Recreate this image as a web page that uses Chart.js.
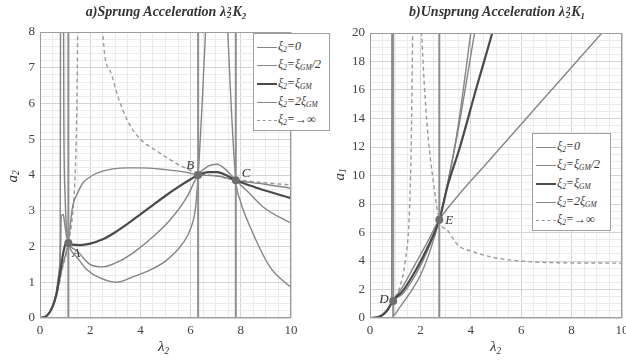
<!DOCTYPE html>
<html>
<head>
<meta charset="UTF-8">
<script src="https://cdn.jsdelivr.net/npm/chart.js"></script>
<style>
  body { margin: 0; background: #fff; }
  #wrap { position: relative; width: 626px; height: 361px; overflow: hidden; font-family: "Liberation Serif", serif; color: #333; }
  canvas { position: absolute; top: 0; }
  .title { position: absolute; top: 4px; font-size: 14px; font-weight: bold; font-style: italic; white-space: nowrap; transform: translateX(-50%); }
  .ax { position: absolute; font-size: 15px; font-style: italic; white-space: nowrap; }
  .ax sub, .title sub, .leg sub { font-size: 0.62em; vertical-align: -0.3em; line-height: 0; }
  .stk { display: inline-block; vertical-align: middle; line-height: 0.6; font-size: 0.62em; text-align: left; margin: 0 1px; }
  .leg { position: absolute; background: #fff; border: 1px solid #a0a0a0; font-size: 12px; font-style: italic; padding: 3px 2px 2px 3px; }
  .leg div { height: 18.3px; line-height: 18.3px; white-space: nowrap; }
  .leg span.ln { display: inline-block; width: 20px; vertical-align: middle; margin-right: 1px; border-top: 1.5px solid #858585; }
</style>
</head>
<body>
<div id="wrap">
  <canvas id="chartA" width="320" height="361" style="left:0"></canvas>
  <canvas id="chartB" width="306" height="361" style="left:320px"></canvas>

  <div class="title" style="left:166px">a)Sprung Acceleration &lambda;<span class="stk">2<br>2</span>K<sub>2</sub></div>
  <div class="title" style="left:497px">b)Unsprung Acceleration &lambda;<span class="stk">2<br>2</span>K<sub>1</sub></div>

  <div class="ax" style="left:6px; top:168px; transform: rotate(-90deg)">a<sub>2</sub></div>
  <div class="ax" style="left:333px; top:166px; transform: rotate(-90deg)">a<sub>1</sub></div>
  <div class="ax" style="left:158px; top:338px">&lambda;<sub>2</sub></div>
  <div class="ax" style="left:490px; top:338px">&lambda;<sub>2</sub></div>

  <div class="leg" style="left:253px; top:33px; width:70px">
    <div><span class="ln"></span>&xi;<sub>2</sub>=0</div>
    <div><span class="ln"></span>&xi;<sub>2</sub>=&xi;<sub>GM</sub>/2</div>
    <div><span class="ln" style="border-top:2.2px solid #4a4a4a"></span>&xi;<sub>2</sub>=&xi;<sub>GM</sub></div>
    <div><span class="ln"></span>&xi;<sub>2</sub>=2&xi;<sub>GM</sub></div>
    <div><span class="ln" style="border-top:1.5px dashed #9a9a9a"></span>&xi;<sub>2</sub>=&rarr;&infin;</div>
  </div>
  <div class="leg" style="left:532px; top:133px; width:72px">
    <div><span class="ln"></span>&xi;<sub>2</sub>=0</div>
    <div><span class="ln"></span>&xi;<sub>2</sub>=&xi;<sub>GM</sub>/2</div>
    <div><span class="ln" style="border-top:2.2px solid #4a4a4a"></span>&xi;<sub>2</sub>=&xi;<sub>GM</sub></div>
    <div><span class="ln"></span>&xi;<sub>2</sub>=2&xi;<sub>GM</sub></div>
    <div><span class="ln" style="border-top:1.5px dashed #9a9a9a"></span>&xi;<sub>2</sub>=&rarr;&infin;</div>
  </div>
</div>

<script>
// a) sprung acceleration (values above 8 run off the top)
const sprX0 = [0, 0.25, 0.5, 0.65, 0.75, 0.8, 0.83, 0.92, 0.95, 1.0, 1.06, 1.13, 1.25, 1.47, 1.87, 2.39, 3.06, 3.7, 4.38, 5.05, 5.7, 6.0, 6.2, 6.3, 7.05, 7.8, 7.97, 8.37, 9.16, 10];
const sprY0 = [0, 0.05, 0.33, 0.7, 1.2, 1.8, 12, 12, 5.5, 3.4, 2.5, 2.1, 1.88, 1.7, 1.35, 1.12, 1.0, 1.15, 1.34, 1.62, 2.1, 2.5, 3.1, 4.0, 12.5, 3.85, 3.3, 2.55, 1.43, 0.85];
const sprXh = [0, 0.25, 0.5, 0.65, 0.75, 0.82, 0.85, 0.93, 0.97, 1.02, 1.07, 1.13, 1.25, 1.47, 1.99, 2.5, 3.19, 3.86, 4.5, 5.18, 5.85, 6.3, 6.7, 7.05, 7.4, 7.8, 8.4, 8.9, 10];
const sprYh = [0, 0.05, 0.33, 0.68, 1.15, 2.0, 2.85, 2.9, 2.7, 2.45, 2.25, 2.1, 1.98, 1.88, 1.5, 1.43, 1.6, 1.9, 2.27, 2.74, 3.38, 4.0, 4.25, 4.3, 4.15, 3.85, 3.45, 3.1, 2.65];
const sprX1 = [0, 0.25, 0.5, 0.65, 0.75, 0.85, 0.95, 1.05, 1.13, 1.3, 1.6, 2.0, 2.5, 3.0, 3.5, 4.0, 4.5, 5.0, 5.5, 6.0, 6.3, 6.7, 7.05, 7.4, 7.8, 8.4, 8.9, 10];
const sprY1 = [0, 0.05, 0.32, 0.66, 1.05, 1.5, 1.9, 2.12, 2.1, 2.05, 2.04, 2.08, 2.2, 2.4, 2.64, 2.9, 3.16, 3.42, 3.66, 3.88, 4.0, 4.08, 4.08, 4.0, 3.85, 3.7, 3.58, 3.35];
const sprX2 = [0, 0.25, 0.5, 0.65, 0.75, 0.85, 0.95, 1.05, 1.13, 1.22, 1.31, 1.5, 1.7, 2.0, 2.27, 2.9, 3.5, 4.0, 5.0, 5.8, 6.3, 7.0, 7.8, 8.9, 10];
const sprY2 = [0, 0.05, 0.3, 0.62, 0.95, 1.3, 1.6, 1.85, 2.1, 2.7, 3.15, 3.5, 3.77, 3.95, 4.05, 4.17, 4.2, 4.2, 4.15, 4.08, 4.0, 3.98, 3.85, 3.75, 3.63];
const sprXi = [0, 0.25, 0.5, 0.65, 0.75, 0.85, 0.95, 1.05, 1.13, 1.25, 1.35, 1.42, 1.47, 1.5, 1.55, 2.0, 2.4, 2.5, 2.8, 3.1, 3.5, 4.0, 4.7, 5.5, 6.3, 7.0, 7.8, 9.0, 10];
const sprYi = [0, 0.05, 0.3, 0.6, 0.9, 1.25, 1.55, 1.8, 2.1, 2.6, 3.3, 4.4, 6, 8, 12, null, 12, 8, 6.9, 6.2, 5.5, 5.0, 4.65, 4.3, 4.05, 3.97, 3.87, 3.78, 3.72];
const sprMarkX = [1.13, 6.3, 7.8];
const sprMarkY = [2.1, 4.0, 3.85];
const sprMarkName = ['A', 'B', 'C'];

// b) unsprung acceleration (values above 20 run off the top)
const unsX0 = [0, 0.3, 0.5, 0.7, 0.8, 0.86, 0.875, 0.9, 0.93, 1.2, 1.6, 2.0, 2.4, 2.75, 3.1, 3.5, 4.0, 4.2];
const unsY0 = [0, 0.05, 0.2, 0.55, 0.85, 1.15, 40, 40, 0.2, 0.8, 1.8, 3.0, 4.8, 6.9, 9.6, 13.5, 20, 22.5];
const unsXh = [0, 0.3, 0.5, 0.7, 0.8, 0.9, 1.3, 1.8, 2.3, 2.75, 3.1, 3.5, 4.15, 4.3];
const unsYh = [0, 0.05, 0.2, 0.55, 0.85, 1.2, 1.7, 3.0, 4.8, 6.9, 9.6, 13.2, 20, 21.5];
const unsX1 = [0, 0.3, 0.5, 0.7, 0.8, 0.9, 1.3, 1.8, 2.3, 2.75, 3.1, 3.57, 4.2, 4.85, 5.0];
const unsY1 = [0, 0.05, 0.22, 0.58, 0.88, 1.2, 1.9, 3.3, 5.0, 6.9, 9.4, 12.0, 16, 20, 21];
const unsX2 = [0, 0.3, 0.5, 0.7, 0.8, 0.9, 1.3, 1.8, 2.3, 2.75, 3.5, 4.5, 6.0, 7.5, 9.2, 10];
const unsY2 = [0, 0.05, 0.25, 0.62, 0.9, 1.2, 2.2, 3.8, 5.4, 6.9, 8.6, 10.6, 13.6, 16.6, 20, 21.6];
const unsXi = [0, 0.3, 0.5, 0.7, 0.8, 0.9, 1.19, 1.4, 1.55, 1.63, 1.69, 1.72, 1.8, 1.95, 2.05, 2.25, 2.54, 2.75, 3.1, 3.5, 4.0, 4.9, 6.2, 7.5, 10];
const unsYi = [0, 0.05, 0.2, 0.55, 0.85, 1.2, 2.2, 4.0, 6.9, 11.6, 19.7, 25, null, 25, 20, 13.9, 9.2, 6.9, 6.1, 5.1, 4.7, 4.25, 3.97, 3.88, 3.85];
const unsMarkX = [0.92, 2.75];
const unsMarkY = [1.2, 6.9];
const unsMarkName = ['D', 'E'];

const serif = 'Liberation Serif';
const thin = '#858585', thick = '#4a4a4a', dash = '#9a9a9a';

function pts(xs, ys) { return xs.map((x, i) => ({ x: x, y: ys[i] })); }

function curve(xs, ys, color, width, dashed) {
    return { data: pts(xs, ys), borderColor: color, borderWidth: width, borderDash: dashed ? [4, 3] : [],
             pointRadius: 0, cubicInterpolationMode: 'monotone', spanGaps: false };
}

function buildSets(c0, ch, c1, c2, ci, mx, my, yMax) {
    const sets = [];
    sets.push({ data: pts(mx, my), showLine: false, pointRadius: 4, pointBackgroundColor: '#6e6e6e',
                pointBorderColor: '#6e6e6e', borderWidth: 0 });
    mx.forEach(x => sets.push({ data: [{ x: x, y: 0 }, { x: x, y: yMax }], borderColor: '#8e8e8e',
                borderWidth: 2, pointRadius: 0 }));
    sets.push(curve(c1[0], c1[1], thick, 2.2, false));
    sets.push(curve(c0[0], c0[1], thin, 1.4, false));
    sets.push(curve(ch[0], ch[1], thin, 1.4, false));
    sets.push(curve(c2[0], c2[1], thin, 1.4, false));
    sets.push(curve(ci[0], ci[1], dash, 1.4, true));
    return sets;
}

const framePlugin = {
    id: 'frame',
    afterDraw(chart, args, opts) {
        const a = chart.chartArea, ctx = chart.ctx;
        ctx.save();
        ctx.strokeStyle = '#9c9c9c';
        ctx.lineWidth = 1;
        ctx.strokeRect(a.left + 0.5, a.top + 0.5, a.right - a.left - 1, a.bottom - a.top - 1);
        // point labels
        ctx.fillStyle = '#333';
        ctx.font = 'italic 13px ' + serif;
        const xs = chart.scales.x, ys = chart.scales.y;
        opts.names.forEach((n, i) => {
            ctx.fillText(n, xs.getPixelForValue(opts.xs[i]) + opts.dx[i], ys.getPixelForValue(opts.ys[i]) + opts.dy[i]);
        });
        ctx.restore();
    }
};

function makeChart(id, sets, yMax, yStep, yMajor, pad, yWidth, marks) {
    const isMajor = (v, m) => Math.abs(v / m - Math.round(v / m)) < 1e-6;
    return new Chart(document.getElementById(id), {
        type: 'line',
        data: { datasets: sets },
        options: {
            responsive: false, animation: false, devicePixelRatio: 1,
            layout: { padding: pad },
            plugins: { legend: { display: false }, tooltip: { enabled: false }, frame: marks },
            scales: {
                x: {
                    type: 'linear', min: 0, max: 10,
                    ticks: { stepSize: 0.5, autoSkip: false, maxRotation: 0, padding: 5, color: '#444',
                             font: { family: serif, size: 13 },
                             callback: v => isMajor(v, 2) ? String(Math.round(v)) : '' },
                    grid: { drawTicks: false, color: c => isMajor(c.tick.value, 2) ? '#d4d4d4' : '#ececec' },
                    border: { display: false },
                    afterFit: s => { s.height = 43; s.paddingLeft = 0; s.paddingRight = 0; }
                },
                y: {
                    min: 0, max: yMax,
                    ticks: { stepSize: yStep, autoSkip: false, padding: 5, color: '#444',
                             font: { family: serif, size: 13 },
                             callback: v => isMajor(v, yMajor) ? String(Math.round(v)) : '' },
                    grid: { drawTicks: false, color: c => isMajor(c.tick.value, yMajor) ? '#d4d4d4' : '#ececec' },
                    border: { display: false },
                    afterFit: s => { s.width = yWidth; s.paddingTop = 0; s.paddingBottom = 0; }
                }
            }
        },
        plugins: [framePlugin]
    });
}

makeChart('chartA',
    buildSets([sprX0, sprY0], [sprXh, sprYh], [sprX1, sprY1], [sprX2, sprY2], [sprXi, sprYi], sprMarkX, sprMarkY, 8),
    8, 0.2, 1, { top: 32, right: 29, left: 0, bottom: 0 }, 40,
    { names: sprMarkName, xs: sprMarkX, ys: sprMarkY, dx: [4, -12, 6], dy: [14, -6, -3] });

makeChart('chartB',
    buildSets([unsX0, unsY0], [unsXh, unsYh], [unsX1, unsY1], [unsX2, unsY2], [unsXi, unsYi], unsMarkX, unsMarkY, 20),
    20, 0.5, 2, { top: 33, right: 4, left: 0, bottom: 0 }, 50,
    { names: unsMarkName, xs: unsMarkX, ys: unsMarkY, dx: [-14, 6], dy: [2, 4] });
</script>
</body>
</html>
